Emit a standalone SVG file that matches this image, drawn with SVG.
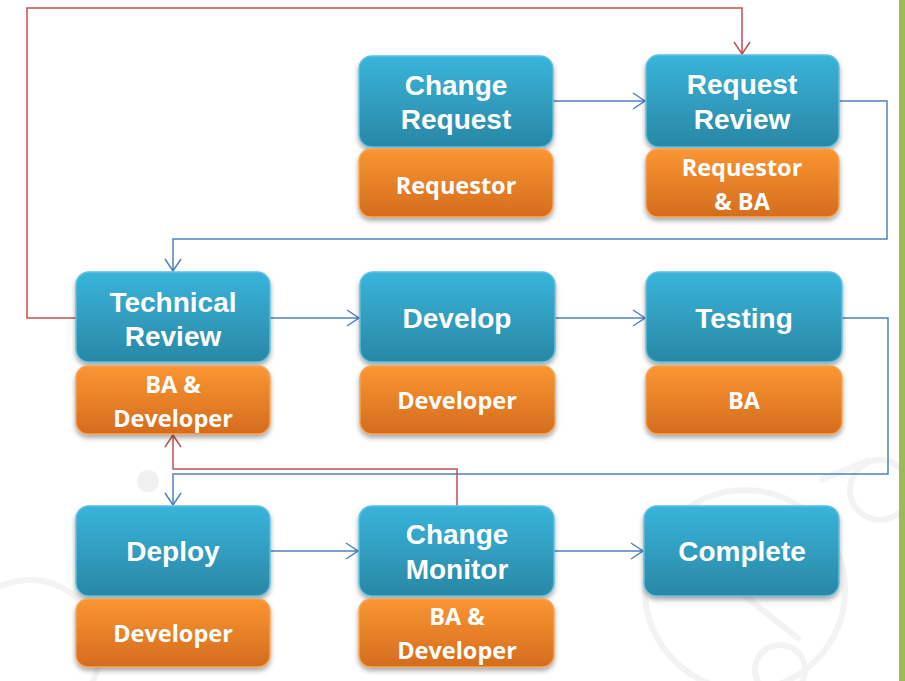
<svg xmlns="http://www.w3.org/2000/svg" width="905" height="681" viewBox="0 0 905 681">
<defs>
<linearGradient id="gb" x1="0" y1="0" x2="0" y2="1">
<stop offset="0" stop-color="#38b4da"/>
<stop offset="1" stop-color="#2a87a5"/>
</linearGradient>
<linearGradient id="go" x1="0" y1="0" x2="0" y2="1">
<stop offset="0" stop-color="#fa9632"/>
<stop offset="1" stop-color="#d46c1e"/>
</linearGradient>
<filter id="sh" x="-10%" y="-10%" width="120%" height="130%">
<feDropShadow dx="0" dy="3" stdDeviation="2.5" flood-color="#000" flood-opacity="0.35"/>
</filter>
<marker id="ab" markerWidth="14" markerHeight="18" refX="13" refY="9" orient="auto" markerUnits="userSpaceOnUse">
<path d="M1,1 L13,9 L1,17" fill="none" stroke="#4f81bd" stroke-width="1.5"/>
</marker>
<marker id="ar" markerWidth="14" markerHeight="18" refX="13" refY="9" orient="auto" markerUnits="userSpaceOnUse">
<path d="M1,1 L13,9 L1,17" fill="none" stroke="#c0504d" stroke-width="1.5"/>
</marker>
</defs>
<style>
.b{fill:url(#gb);stroke:#5fc0df;stroke-width:1.5;filter:url(#sh)}
.o{fill:url(#go);stroke:#f6a456;stroke-width:1.5;filter:url(#sh)}
.tb{font-family:"Liberation Sans",Arial,sans-serif;font-weight:bold;font-size:28px;fill:#fff;text-anchor:middle}
.to{font-family:"Open Sans","Noto Sans",sans-serif;font-weight:bold;font-size:23.5px;fill:#fff;text-anchor:middle}
.cb{fill:none;stroke:#4f81bd;stroke-width:1.5}
.cr{fill:none;stroke:#c0504d;stroke-width:1.5}
.wm{fill:none;stroke:#f3f3f3;stroke-width:6}
</style>
<rect width="905" height="681" fill="#fff"/>
<g id="watermark">
<circle class="wm" cx="745" cy="590" r="100"/>
<circle class="wm" cx="30" cy="650" r="70"/>
<circle cx="148" cy="481" r="11" fill="#f1f1f1"/>
<circle class="wm" cx="880" cy="490" r="30"/>
<circle class="wm" cx="780" cy="670" r="25"/>
<path class="wm" d="M700 560 L800 640 M820 480 L870 460" stroke-width="4"/>
</g>
<rect x="899" y="0" width="6" height="681" fill="#9bbb59"/>
<g id="connectors">
<path class="cb" d="M553 101 H645" marker-end="url(#ab)"/>
<path class="cb" d="M839 101 H887 V239 H173 V271" marker-end="url(#ab)"/>
<path class="cb" d="M270 318 H359" marker-end="url(#ab)"/>
<path class="cb" d="M555 318 H645" marker-end="url(#ab)"/>
<path class="cb" d="M842 318 H888 V474 H173 V505" marker-end="url(#ab)"/>
<path class="cb" d="M270 551 H358" marker-end="url(#ab)"/>
<path class="cb" d="M554 551 H643" marker-end="url(#ab)"/>
<path class="cr" d="M76 318 H27 V8 H742 V54" marker-end="url(#ar)"/>
<path class="cr" d="M457 506 V469 H173 V435" marker-end="url(#ar)"/>
</g>
<g id="change-request">
<rect class="b" x="359" y="56" width="194" height="91" rx="13"/>
<text class="tb" x="456" y="95">Change</text>
<text class="tb" x="456" y="129">Request</text>
<rect class="o" x="359" y="149" width="194" height="68" rx="12"/>
<text class="to" x="456" y="194">Requestor</text>
</g>
<g id="request-review">
<rect class="b" x="646" y="55" width="193" height="92" rx="13"/>
<text class="tb" x="742" y="94">Request</text>
<text class="tb" x="742" y="129">Review</text>
<rect class="o" x="646" y="149" width="193" height="68" rx="12"/>
<text class="to" x="742" y="176">Requestor</text>
<text class="to" x="742" y="210">&amp; BA</text>
</g>
<g id="technical-review">
<rect class="b" x="76" y="272" width="194" height="90" rx="13"/>
<text class="tb" x="173" y="312">Technical</text>
<text class="tb" x="173" y="346">Review</text>
<rect class="o" x="76" y="366" width="194" height="68" rx="12"/>
<text class="to" x="173" y="393">BA &amp;</text>
<text class="to" x="173" y="427">Developer</text>
</g>
<g id="develop">
<rect class="b" x="360" y="272" width="195" height="90" rx="13"/>
<text class="tb" x="457" y="328">Develop</text>
<rect class="o" x="360" y="366" width="195" height="68" rx="12"/>
<text class="to" x="457" y="409">Developer</text>
</g>
<g id="testing">
<rect class="b" x="646" y="272" width="196" height="90" rx="13"/>
<text class="tb" x="744" y="328">Testing</text>
<rect class="o" x="646" y="366" width="196" height="68" rx="12"/>
<text class="to" x="744" y="409">BA</text>
</g>
<g id="deploy">
<rect class="b" x="76" y="506" width="194" height="90" rx="13"/>
<text class="tb" x="173" y="561">Deploy</text>
<rect class="o" x="76" y="599" width="194" height="68" rx="12"/>
<text class="to" x="173" y="642">Developer</text>
</g>
<g id="change-monitor">
<rect class="b" x="359" y="506" width="195" height="90" rx="13"/>
<text class="tb" x="457" y="544">Change</text>
<text class="tb" x="457" y="579">Monitor</text>
<rect class="o" x="359" y="599" width="195" height="68" rx="12"/>
<text class="to" x="457" y="625">BA &amp;</text>
<text class="to" x="457" y="659">Developer</text>
</g>
<g id="complete">
<rect class="b" x="644" y="506" width="195" height="90" rx="13"/>
<text class="tb" x="742" y="561">Complete</text>
</g>
</svg>
